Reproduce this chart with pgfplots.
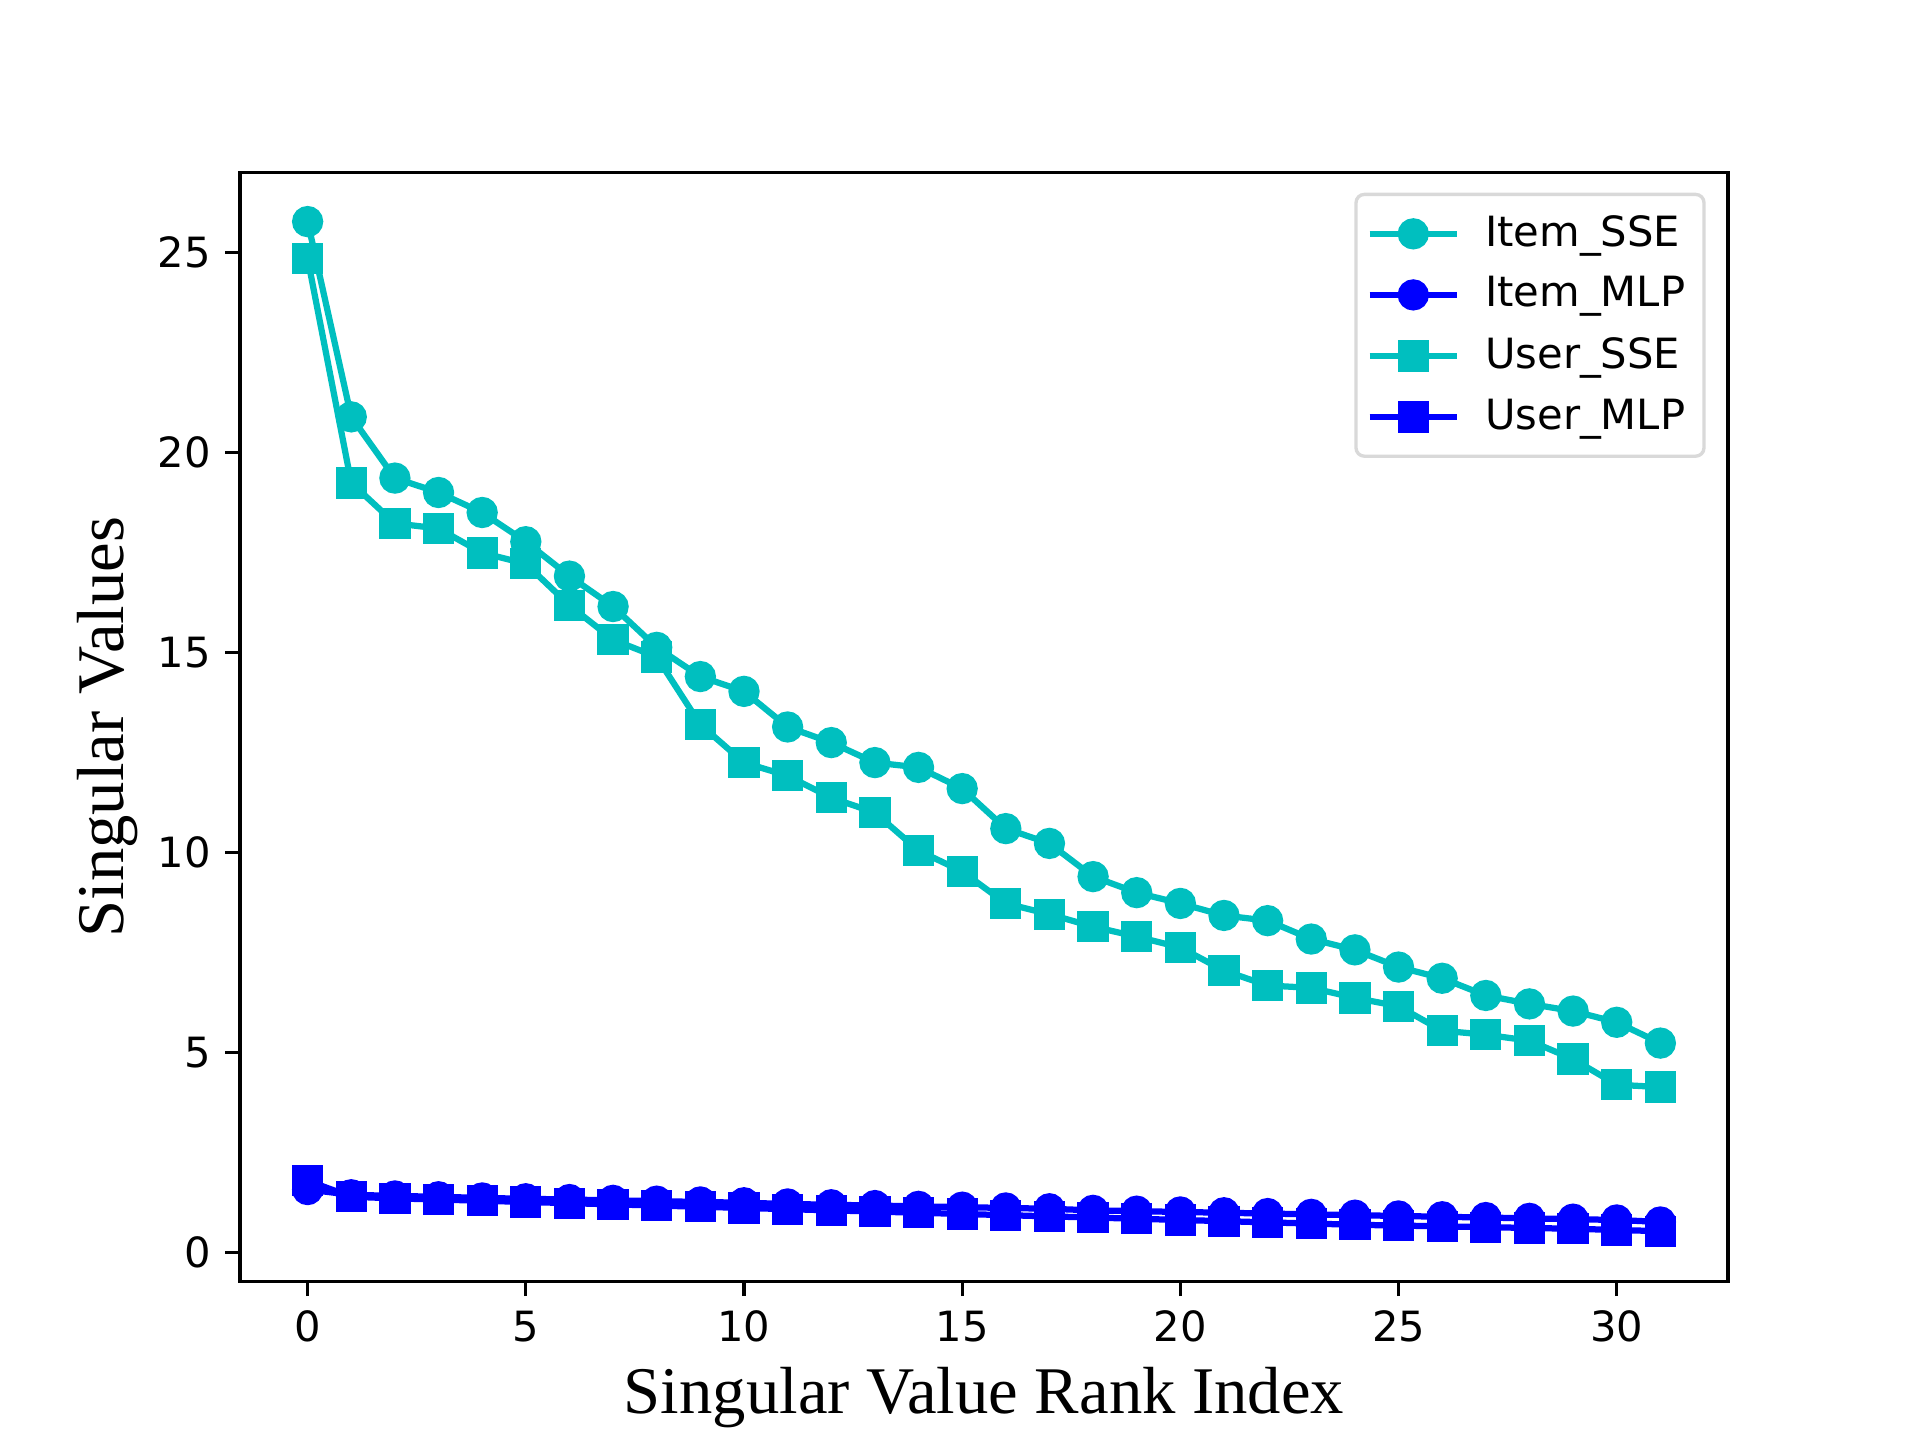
\documentclass[border=0pt]{standalone}
\usepackage{pgfplots}
\pgfplotsset{compat=1.18}
\usepackage{fontspec}
\setmainfont{DejaVu Sans}
\newfontfamily\timesfont{Liberation Serif}
\definecolor{mplc}{rgb}{0,0.75,0.75}
\definecolor{mplb}{rgb}{0,0,1}
\begin{document}
\begin{tikzpicture}
\useasboundingbox (-57.6pt,-38.02pt) rectangle (403.2pt,307.58pt);
\begin{axis}[
    at={(0,0)}, anchor=south west,
    scale only axis,
    width=357.12pt, height=266.11pt,
    xmin=-1.55, xmax=32.55,
    ymin=-0.72, ymax=26.99,
    xtick={0,5,...,30}, ytick={0,5,...,25},
    tick align=outside, tick pos=left,
    major tick length=3.5pt,
    every tick/.style={black, line width=0.8pt},
    axis line style={line width=0.8pt},
    tick label style={font=\fontsize{10}{12}\selectfont},
    /pgf/number format/assume math mode=true,
    xlabel={\timesfont\fontsize{16}{19}\selectfont Singular Value Rank Index},
    ylabel={\timesfont\fontsize{16}{19}\selectfont Singular Values},
    xlabel style={yshift=1pt},
    ylabel style={yshift=-2pt},
    legend style={at={(0.985,0.982)}, anchor=north east,
        draw=black!15, rounded corners=2pt, line width=0.8pt,
        font=\fontsize{10}{12}\selectfont, row sep=1.8pt,
        fill=white, inner xsep=2.5pt, inner ysep=3pt},
    legend cell align=left,
    legend image code/.code={
        \draw[mark repeat=2, mark phase=2]
        plot coordinates {(0pt,0pt) (10.5pt,0pt) (21pt,0pt)};
        \path (25pt,0pt);},
    every axis plot/.append style={line width=1.5pt},
]
\addplot[mplc, mark=*, mark size=3pt] coordinates {
(0,25.77) (1,20.89) (2,19.36) (3,19.0) (4,18.5) (5,17.77) (6,16.91) (7,16.15)
(8,15.13) (9,14.4) (10,14.03) (11,13.14) (12,12.75) (13,12.25) (14,12.13) (15,11.6)
(16,10.6) (17,10.23) (18,9.4) (19,9.0) (20,8.73) (21,8.43) (22,8.3) (23,7.84)
(24,7.57) (25,7.14) (26,6.86) (27,6.43) (28,6.22) (29,6.04) (30,5.76) (31,5.24)};
\addlegendentry{Item\_SSE}
\addplot[mplb, mark=*, mark size=3pt] coordinates {
(0,1.58) (1,1.45) (2,1.42) (3,1.40) (4,1.37) (5,1.35) (6,1.33) (7,1.31)
(8,1.29) (9,1.27) (10,1.25) (11,1.22) (12,1.20) (13,1.18) (14,1.16) (15,1.14)
(16,1.12) (17,1.10) (18,1.06) (19,1.04) (20,1.02) (21,1.00) (22,0.98) (23,0.96)
(24,0.94) (25,0.92) (26,0.90) (27,0.88) (28,0.86) (29,0.84) (30,0.82) (31,0.77)};
\addlegendentry{Item\_MLP}
\addplot[mplc, mark=square*, mark size=3pt] coordinates {
(0,24.85) (1,19.24) (2,18.23) (3,18.1) (4,17.49) (5,17.22) (6,16.18) (7,15.32)
(8,14.89) (9,13.2) (10,12.25) (11,11.92) (12,11.37) (13,11.0) (14,10.05) (15,9.53)
(16,8.73) (17,8.46) (18,8.15) (19,7.9) (20,7.63) (21,7.05) (22,6.68) (23,6.62)
(24,6.37) (25,6.16) (26,5.55) (27,5.45) (28,5.3) (29,4.84) (30,4.2) (31,4.14)};
\addlegendentry{User\_SSE}
\addplot[mplb, mark=square*, mark size=3pt] coordinates {
(0,1.80) (1,1.40) (2,1.36) (3,1.33) (4,1.30) (5,1.27) (6,1.24) (7,1.21)
(8,1.18) (9,1.15) (10,1.12) (11,1.09) (12,1.06) (13,1.03) (14,1.00) (15,0.97)
(16,0.94) (17,0.91) (18,0.88) (19,0.85) (20,0.82) (21,0.79) (22,0.76) (23,0.73)
(24,0.70) (25,0.68) (26,0.66) (27,0.64) (28,0.62) (29,0.60) (30,0.57) (31,0.54)};
\addlegendentry{User\_MLP}
\end{axis}
\end{tikzpicture}
\end{document}
